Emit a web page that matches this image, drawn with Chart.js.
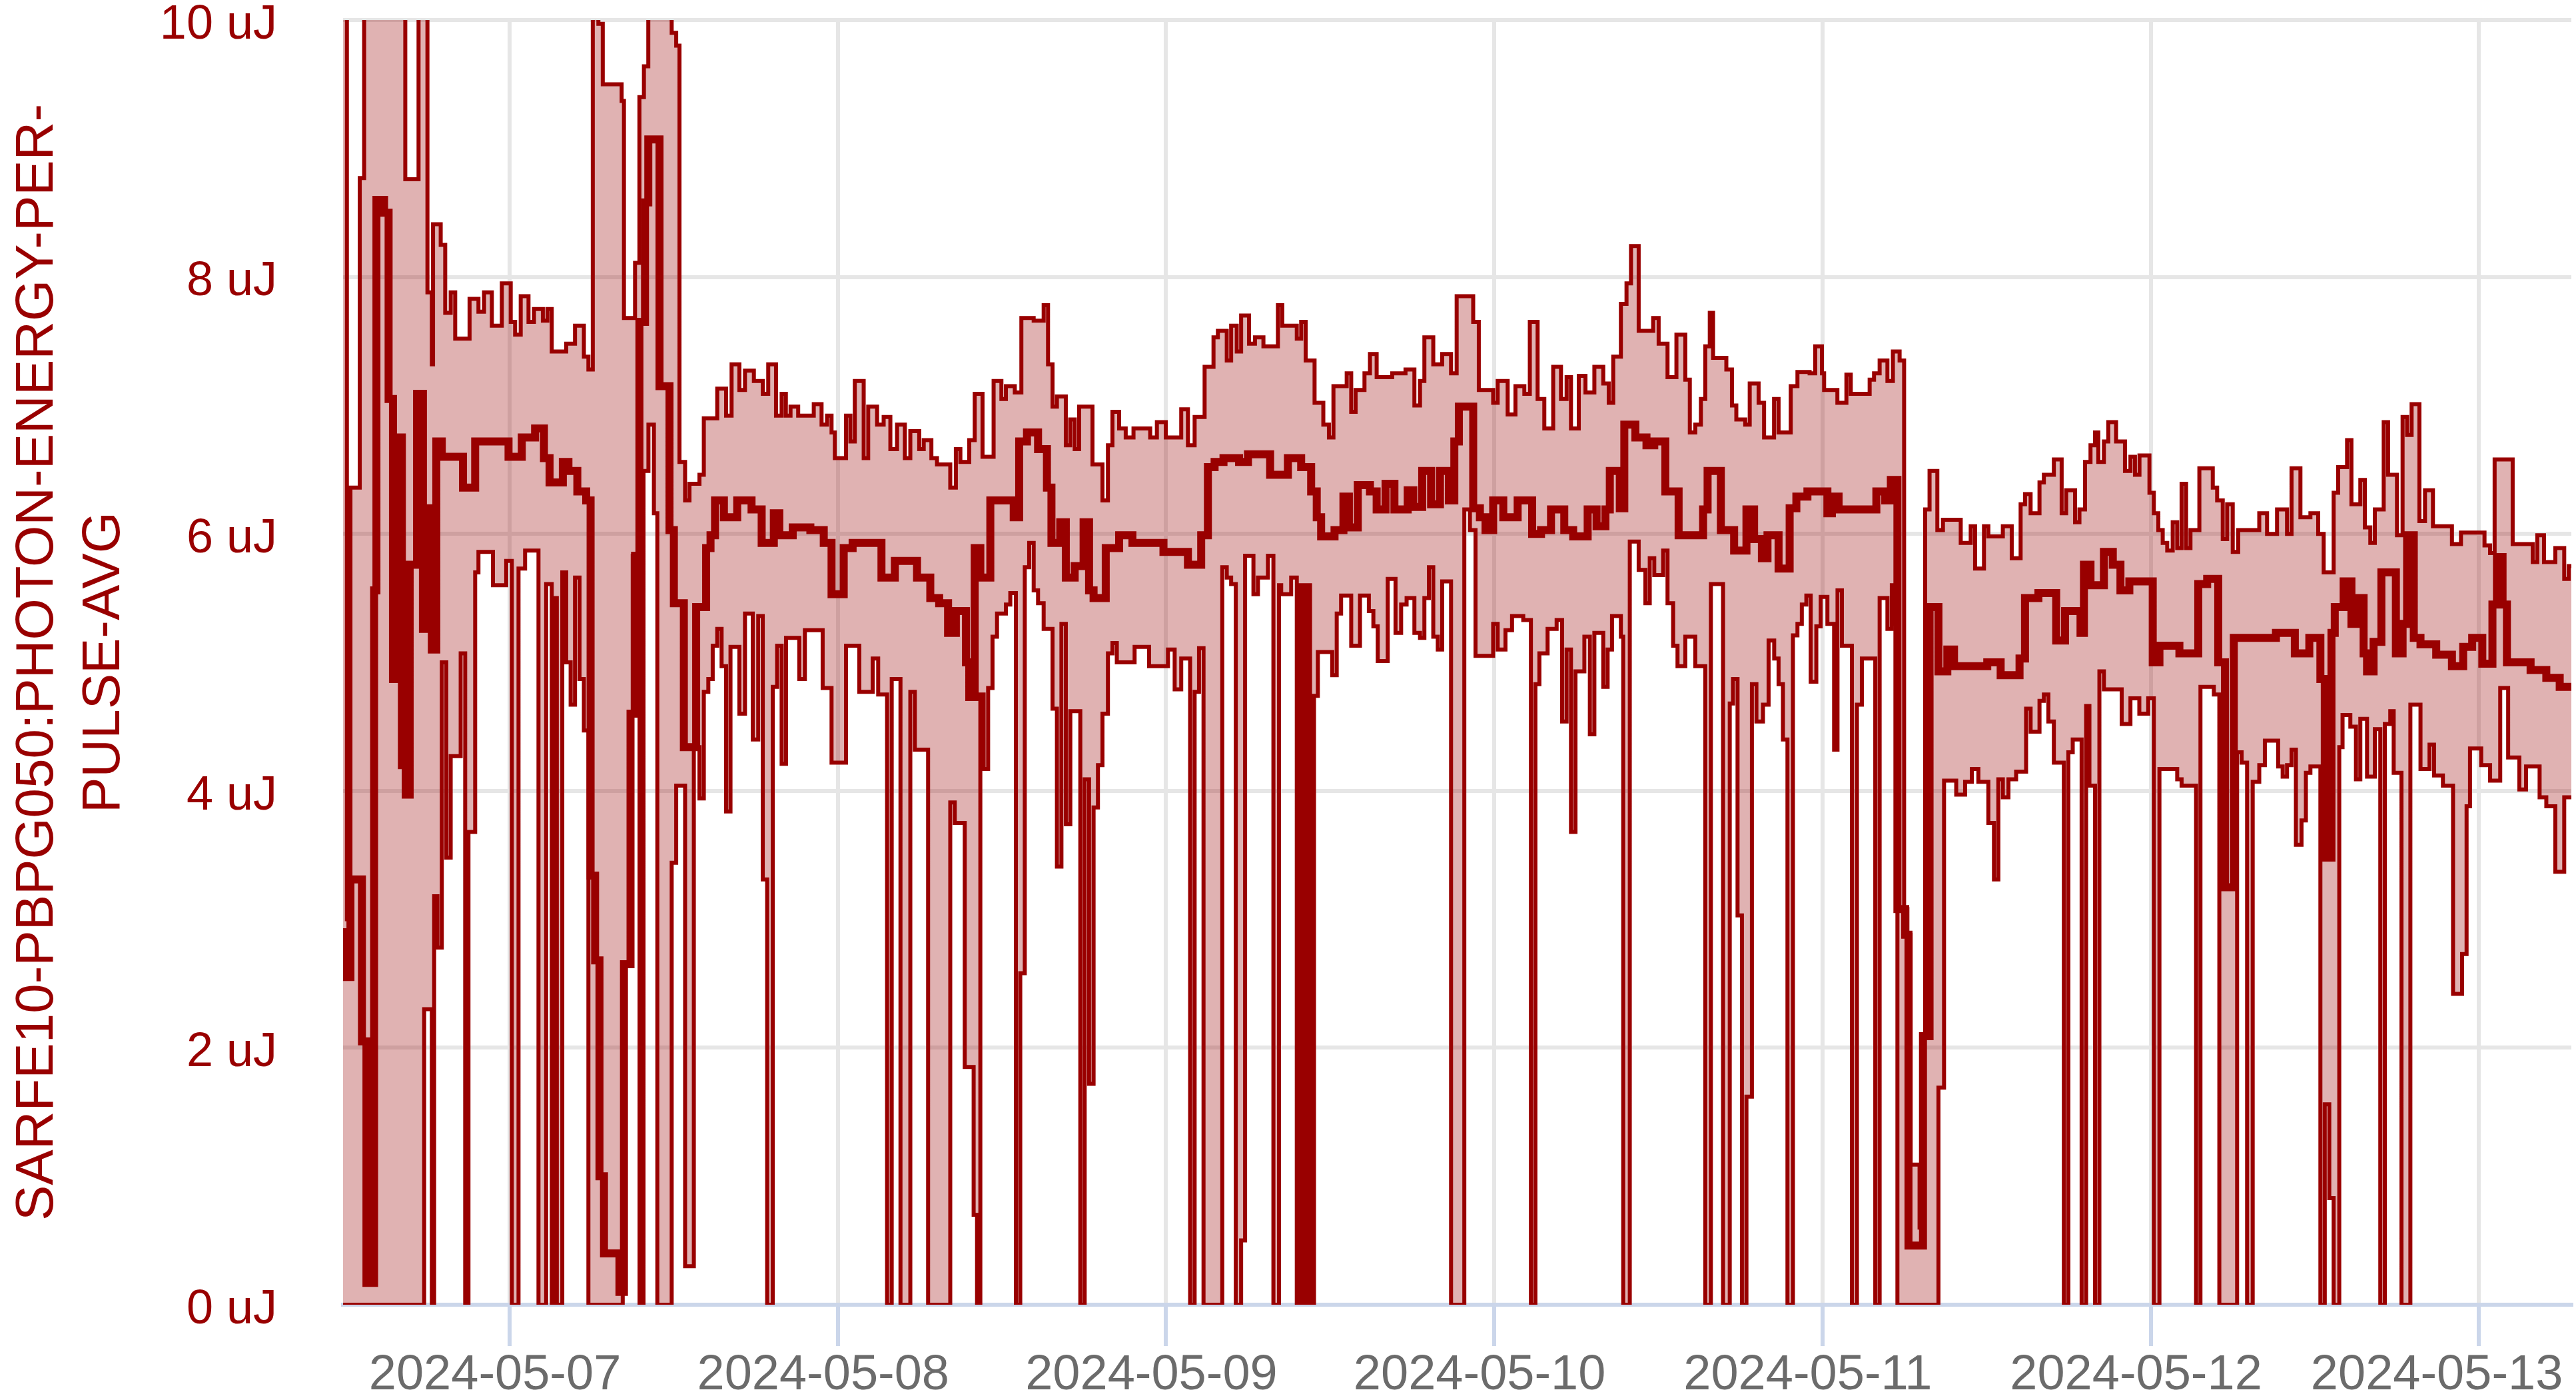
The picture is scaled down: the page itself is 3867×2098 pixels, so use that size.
<!DOCTYPE html>
<html>
<head>
<meta charset="utf-8">
<script src="https://cdn.jsdelivr.net/npm/chart.js@4.4.1/dist/chart.umd.min.js"></script>
<style>
  html, body { margin: 0; padding: 0; background: #ffffff; }
  #wrap { width: 3867px; height: 2098px; }
</style>
</head>
<body>
<div id="wrap"><canvas id="energyChart"></canvas></div>
<script>
// hours since 2024-05-06 00:00, value in uJ (each value holds until the next time)
const maxSteps = [
  [11.82,10.5],[12.1,3.0],[12.36,6.36],[13.04,8.77],[13.36,10.5],[16.37,8.76],[17.34,10.5],[17.99,7.88],
  [18.31,7.32],[18.4,8.41],[18.96,8.25],[19.29,7.72],[19.69,7.88],[20.02,7.52],[21.07,7.83],[21.72,7.73],
  [22.13,7.88],[22.7,7.62],[23.43,7.95],[24.08,7.65],[24.4,7.55],[24.81,7.85],[25.38,7.65],[25.78,7.75],
  [26.43,7.66],[26.76,7.75],[27.08,7.42],[28.14,7.48],[28.78,7.62],[29.43,7.38],[29.76,7.28],[30.08,10.5],
  [30.49,9.97],[30.81,9.5],[32.19,9.37],[32.36,7.68],[33.17,8.11],[33.49,9.4],[33.82,9.64],[34.14,10.5],
  [35.85,9.9],[36.18,9.8],[36.42,6.56],[36.83,6.26],[37.15,6.39],[37.88,6.46],[38.2,6.9],[39.18,7.13],
  [39.83,6.92],[40.23,7.32],[40.8,7.12],[41.21,7.27],[41.86,7.19],[42.51,7.09],[42.91,7.32],[43.48,6.92],
  [43.89,7.09],[44.2,6.92],[44.54,6.99],[45.1,6.92],[46.24,7.01],[46.81,6.85],[47.21,6.92],[47.54,6.79],
  [47.78,6.59],[48.6,6.92],[48.92,6.72],[49.24,7.19],[49.89,6.59],[50.22,6.99],[50.87,6.85],[51.35,6.91],
  [51.84,6.66],[52.33,6.85],[52.9,6.59],[53.3,6.8],[53.95,6.66],[54.28,6.73],[54.84,6.59],[55.25,6.54],
  [56.22,6.36],[56.63,6.66],[56.96,6.56],[57.61,6.73],[58.01,7.09],[58.58,6.6],[59.39,7.19],[59.96,7.05],
  [60.29,7.15],[60.94,7.1],[61.42,7.68],[62.32,7.66],[63.05,7.78],[63.37,7.32],[63.7,6.99],[64.02,7.07],
  [64.67,6.69],[64.99,6.89],[65.32,6.66],[65.64,6.99],[66.62,6.54],[67.35,6.26],[67.75,6.69],[68.08,6.95],
  [68.57,6.82],[69.05,6.75],[69.62,6.82],[70.84,6.75],[71.33,6.87],[71.98,6.75],[73.11,6.97],[73.6,6.69],
  [74.09,6.91],[74.82,7.3],[75.47,7.53],[75.79,7.58],[76.44,7.35],[76.76,7.62],[77.17,7.42],[77.49,7.7],
  [78.07,7.48],[78.5,7.53],[79.12,7.46],[80.18,7.78],[80.5,7.62],[81.56,7.52],[81.88,7.65],[82.21,7.35],
  [82.86,7.02],[83.5,6.85],[83.91,6.75],[84.24,7.15],[85.21,7.25],[85.54,6.95],[85.86,7.12],[86.51,7.25],
  [86.91,7.4],[87.4,7.22],[88.54,7.25],[89.51,7.28],[90.16,7.0],[90.57,7.19],[90.89,7.53],[91.54,7.32],
  [92.19,7.4],[92.84,7.25],[93.25,7.85],[94.46,7.65],[94.87,7.12],[95.92,7.02],[96.25,7.19],[96.98,6.93],
  [97.55,7.15],[98.2,7.09],[98.6,7.65],[99.17,7.05],[99.66,6.82],[100.31,7.3],[100.88,7.05],[101.29,7.22],
  [101.61,6.82],[102.18,7.23],[102.67,7.1],[103.32,7.3],[103.97,7.17],[104.37,7.02],[104.7,7.38],[105.26,7.79],
  [105.67,7.95],[106.0,8.24],[106.56,7.58],[107.62,7.68],[108.02,7.48],[108.67,7.22],[109.32,7.55],[109.97,7.2],
  [110.3,6.79],[110.7,6.85],[111.11,7.05],[111.43,7.46],[111.76,7.72],[112.0,7.37],[112.97,7.28],[113.38,7.0],
  [113.7,6.89],[114.35,6.85],[114.68,7.17],[115.33,7.02],[115.73,6.75],[116.46,7.05],[116.79,6.79],[117.68,7.15],
  [118.17,7.26],[119.06,7.25],[119.47,7.46],[119.96,7.25],[120.12,7.12],[121.09,7.02],[121.75,7.24],[122.07,7.09],
  [123.45,7.2],[123.77,7.25],[124.18,7.35],[124.75,7.19],[125.15,7.42],[125.64,7.35],[125.97,3.08],[126.21,2.88],
  [126.45,1.09],[127.1,0.6],[127.35,2.09],[127.51,6.19],[127.83,6.49],[128.4,6.03],[128.81,6.11],[130.11,5.93],
  [130.84,6.06],[131.16,5.73],[131.81,6.06],[132.13,5.98],[133.19,6.06],[133.84,5.81],[134.49,6.23],[134.81,6.31],
  [135.22,6.16],[135.87,6.4],[136.19,6.46],[136.92,6.58],[137.49,6.16],[137.82,6.34],[138.47,6.09],[138.79,6.19],
  [139.2,6.56],[139.6,6.69],[139.93,6.79],[140.17,6.56],[140.58,6.72],[140.9,6.87],[141.47,6.72],[142.12,6.49],
  [142.52,6.6],[142.85,6.46],[143.18,6.61],[143.91,6.32],[144.23,6.16],[144.56,6.03],[144.88,5.93],[145.21,5.87],
  [145.61,6.09],[145.94,5.89],[146.26,6.39],[146.59,5.89],[146.91,6.03],[147.56,6.51],[148.54,6.36],[148.86,6.26],
  [149.27,5.96],[149.59,6.23],[150.0,5.86],[150.4,6.03],[151.94,6.16],[152.51,6.0],[153.24,6.19],[153.97,6.0],
  [154.3,6.51],[154.95,6.13],[155.68,6.16],[156.25,6.0],[156.65,5.7],[157.38,6.32],[157.71,6.52],[158.36,6.73],
  [158.68,6.23],[159.33,6.42],[159.66,6.05],[160.06,5.93],[160.39,6.19],[161.04,6.87],[161.36,6.46],[162.01,5.99],
  [162.42,6.91],[162.75,6.77],[163.08,7.01],[163.65,6.1],[164.06,6.34],[164.64,6.06],[166.03,5.92],[166.69,6.01],
  [168.41,5.91],[168.82,5.85],[169.15,6.58],[170.47,5.92],[171.94,5.78],[172.27,5.99],[172.76,5.78],[173.59,5.89],
  [174.24,5.65],[174.57,5.75],[174.76,5.75]
];

const meanSteps = [
  [11.82,2.9],[12.1,2.55],[12.36,3.31],[13.2,2.05],[13.53,0.17],[14.09,5.56],[14.26,8.6],[14.82,8.5],
  [15.15,7.05],[15.47,4.87],[15.88,6.75],[16.12,4.2],[16.4,3.97],[16.69,5.76],[17.23,7.09],[17.66,5.26],
  [17.99,6.2],[18.31,5.1],[18.64,6.72],[19.04,6.6],[20.59,6.36],[21.48,6.72],[23.92,6.6],[24.89,6.75],
  [25.86,6.82],[26.51,6.59],[26.92,6.4],[27.89,6.56],[28.3,6.49],[28.95,6.33],[29.6,6.26],[29.92,3.34],
  [30.25,2.68],[30.57,1.0],[30.9,0.4],[32.03,0.1],[32.36,2.65],[32.84,4.6],[33.17,5.83],[33.49,7.65],
  [33.9,8.58],[34.14,9.07],[34.96,7.15],[35.69,6.03],[36.01,5.46],[36.74,4.34],[37.64,5.43],[38.37,5.89],
  [38.69,5.99],[39.02,6.26],[39.67,6.13],[40.64,6.26],[41.69,6.19],[42.43,5.93],[43.32,6.16],[43.72,5.99],
  [44.7,6.05],[45.99,6.03],[46.97,5.93],[47.54,5.53],[48.43,5.89],[49.08,5.93],[51.19,5.66],[52.17,5.79],
  [53.79,5.66],[54.76,5.5],[55.41,5.46],[56.06,5.23],[56.63,5.4],[57.37,5.0],[57.61,4.73],[58.01,5.89],
  [58.42,5.66],[59.15,6.26],[60.86,6.13],[61.26,6.72],[61.83,6.79],[62.64,6.66],[63.29,6.36],[63.62,5.93],
  [64.26,6.09],[64.67,5.66],[65.32,5.75],[65.97,6.09],[66.37,5.56],[66.7,5.5],[67.59,5.89],[68.57,5.99],
  [69.54,5.93],[71.81,5.86],[73.6,5.76],[74.57,5.99],[75.06,6.52],[75.55,6.56],[76.2,6.59],[77.34,6.56],
  [77.99,6.62],[79.61,6.46],[80.91,6.59],[81.88,6.52],[82.61,6.33],[83.02,6.13],[83.34,5.98],[84.32,6.03],
  [84.97,6.29],[85.37,6.05],[86.02,6.38],[86.91,6.33],[87.4,6.19],[88.05,6.39],[88.7,6.19],[89.67,6.34],
  [90.08,6.21],[90.73,6.49],[91.38,6.23],[92.03,6.49],[92.68,6.26],[93.08,6.72],[93.41,6.99],[94.46,6.2],
  [94.95,6.13],[95.36,6.03],[95.92,6.26],[96.66,6.13],[97.71,6.26],[98.77,6.0],[99.42,6.03],[100.15,6.19],
  [101.12,6.03],[101.77,5.98],[102.83,6.19],[103.48,6.06],[104.13,6.19],[104.45,6.49],[105.18,6.2],[105.51,6.85],
  [106.32,6.75],[107.13,6.69],[107.7,6.72],[108.51,6.33],[109.48,5.99],[111.27,6.19],[111.6,6.49],[112.57,6.03],
  [113.54,5.87],[114.44,6.19],[115.0,5.96],[115.57,5.81],[115.98,5.99],[116.79,5.73],[117.6,6.2],[118.09,6.29],
  [118.9,6.33],[120.36,6.16],[120.69,6.29],[121.18,6.19],[123.94,6.33],[124.59,6.26],[125.0,6.42],[125.48,3.08],
  [126.05,2.88],[126.29,0.46],[127.35,2.09],[127.83,5.43],[128.48,4.93],[129.13,5.1],[129.62,4.97],[132.05,5.0],
  [133.03,4.9],[134.41,5.03],[134.81,5.5],[135.79,5.54],[137.09,5.17],[137.74,5.4],[138.87,5.23],[139.12,5.76],
  [139.6,5.6],[140.58,5.86],[141.23,5.76],[141.79,5.56],[142.44,5.63],[144.15,5.0],[144.64,5.13],[146.1,5.07],
  [147.48,5.61],[148.13,5.65],[148.94,5.0],[149.43,3.25],[150.08,5.19],[153.16,5.23],[154.54,5.07],[155.6,5.19],
  [156.41,4.87],[156.73,3.48],[157.22,5.23],[157.46,5.43],[158.11,5.63],[158.68,5.3],[159.17,5.5],[159.57,5.07],
  [159.82,4.93],[160.3,5.16],[160.87,5.7],[161.93,5.07],[162.42,5.3],[162.75,5.99],[163.24,5.19],[163.73,5.14],
  [164.88,5.06],[166.03,4.97],[166.85,5.12],[167.51,5.19],[168.25,4.99],[168.99,5.45],[169.32,5.82],[169.73,5.45],
  [170.05,5.0],[171.78,4.94],[172.93,4.88],[173.91,4.81],[174.76,4.81]
];

const minSteps = [
  [11.82,0],[17.75,2.3],[18.31,0],[18.48,3.18],[18.72,2.78],[19.04,5.0],[19.37,3.48],[19.69,4.27],
  [20.42,5.07],[20.75,0],[20.99,3.68],[21.48,5.7],[21.72,5.86],[22.78,5.6],[23.75,5.79],[24.16,0],
  [24.65,5.73],[25.13,5.87],[26.11,0],[26.67,5.61],[27.08,0],[27.3,5.5],[27.45,0],[27.85,5.7],
  [28.14,5.0],[28.46,4.67],[28.78,5.66],[29.11,4.87],[29.43,4.47],[29.76,0],[32.27,2.65],[32.76,4.6],
  [33.0,5.83],[33.5,0],[33.79,6.49],[34.15,6.85],[34.55,6.16],[34.8,0],[35.85,3.44],[36.18,4.04],
  [36.83,0.3],[37.47,4.34],[37.88,3.94],[38.2,4.77],[38.53,4.87],[38.85,5.13],[39.18,5.26],[39.5,4.97],
  [39.83,3.84],[40.15,5.12],[40.8,4.6],[41.21,5.38],[41.78,4.4],[42.18,5.36],[42.51,3.31],[42.83,0],
  [43.24,4.81],[43.56,5.13],[43.89,4.21],[44.21,5.19],[45.18,4.87],[45.59,5.25],[46.89,4.8],[47.54,4.22],
  [48.6,5.13],[49.57,4.77],[50.55,5.03],[50.95,4.75],[51.6,0],[51.94,4.87],[52.58,0],[53.3,4.77],
  [53.63,4.32],[54.6,0],[56.22,3.91],[56.55,3.75],[57.28,1.85],[57.93,0.7],[58.18,0],[58.42,4.75],
  [58.66,4.17],[58.99,4.8],[59.31,5.2],[59.64,5.38],[60.29,5.45],[60.61,5.54],[61.02,0],[61.34,2.58],
  [61.67,5.74],[61.99,5.93],[62.32,5.56],[62.64,5.46],[63.05,5.26],[63.7,4.64],[64.02,3.41],[64.35,5.3],
  [64.67,3.74],[65.0,4.62],[65.73,0],[66.05,4.09],[66.37,1.72],[66.7,3.87],[67.02,4.2],[67.35,4.6],
  [67.75,5.07],[68.08,5.15],[68.4,5.0],[69.7,5.12],[70.76,4.97],[72.14,5.1],[72.63,4.79],[73.11,5.03],
  [73.76,0],[74.09,4.77],[74.41,5.11],[74.74,0],[76.11,5.74],[76.44,5.66],[76.76,5.61],[77.1,0],
  [77.49,0.5],[77.78,5.83],[78.39,5.53],[78.72,5.66],[79.45,5.83],[79.85,0],[80.26,5.6],[80.42,5.53],
  [81.15,5.66],[81.56,0],[81.72,5.6],[81.92,0],[82.08,5.6],[82.24,0],[82.4,5.6],[82.53,0],
  [82.82,4.74],[83.1,5.08],[84.15,4.9],[84.48,5.38],[84.8,5.52],[85.54,5.13],[86.18,5.52],[86.83,5.4],
  [87.16,5.28],[87.48,5.01],[88.21,5.65],[88.78,5.23],[89.19,5.45],[89.59,5.5],[90.16,5.23],[90.57,5.19],
  [90.89,5.5],[91.22,5.74],[91.54,5.2],[91.87,5.1],[92.19,5.63],[92.84,0],[93.81,6.19],[94.22,6.03],
  [94.63,5.05],[95.92,5.3],[96.25,5.1],[96.82,5.25],[97.3,5.36],[98.12,5.33],[98.68,0],[99.01,4.83],
  [99.3,5.07],[99.9,5.26],[100.56,5.33],[100.96,4.54],[101.29,5.1],[101.61,3.68],[101.94,4.93],[102.59,5.2],
  [102.99,4.44],[103.32,5.23],[103.97,4.81],[104.29,5.1],[104.61,5.36],[105.26,5.2],[105.43,0],[105.91,5.94],
  [106.56,5.72],[107.05,5.46],[107.37,5.81],[107.7,5.68],[108.35,5.87],[108.67,5.46],[109.08,5.13],[109.4,4.97],
  [109.97,5.2],[110.7,4.97],[111.43,0],[111.84,5.61],[112.73,0],[113.22,4.68],[113.46,4.87],[113.79,3.03],
  [114.11,0],[114.44,1.62],[114.84,4.83],[115.17,4.54],[115.65,4.67],[116.06,5.17],[116.47,5.03],[116.79,4.83],
  [117.11,4.4],[117.44,0],[117.84,5.21],[118.17,5.3],[118.49,5.45],[118.82,5.52],[119.14,4.85],[119.55,5.28],
  [119.87,5.51],[120.36,5.3],[120.85,4.32],[121.1,5.56],[121.42,5.13],[122.15,0],[122.52,4.67],[122.88,5.03],
  [123.86,0],[124.18,5.5],[124.75,5.26],[125.07,5.6],[125.32,5.3],[125.48,0],[128.48,1.69],[128.89,4.08],
  [129.78,3.97],[130.43,4.07],[130.92,4.17],[131.4,4.07],[132.13,3.75],[132.54,3.31],[132.86,4.09],[133.19,3.95],
  [133.6,4.09],[134.16,4.15],[134.89,4.64],[135.22,4.46],[135.87,4.7],[136.19,4.75],[136.52,4.54],[136.92,4.22],
  [137.65,0],[137.98,4.3],[138.3,4.4],[138.95,0],[139.28,4.66],[139.52,4.04],[139.93,0],[140.25,4.93],
  [140.58,4.79],[141.88,4.52],[142.52,4.72],[143.17,4.6],[143.82,4.72],[144.23,0],[144.64,4.17],[145.94,4.09],
  [146.26,4.04],[147.32,0],[147.64,4.81],[148.62,4.75],[149.02,0],[150.32,4.3],[150.65,4.22],[151.05,0],
  [151.46,4.07],[151.94,4.2],[152.35,4.39],[153.32,4.19],[153.65,4.11],[153.97,4.2],[154.3,4.32],[154.62,3.58],
  [155.03,3.77],[155.35,4.14],[155.68,4.19],[156.41,0],[156.73,1.56],[157.06,0.83],[157.38,0],[157.79,4.34],
  [158.03,4.59],[158.6,4.5],[159.01,4.09],[159.33,4.56],[159.82,4.11],[160.39,4.48],[160.79,0],[161.12,4.52],
  [161.52,4.62],[161.77,4.14],[162.34,0],[162.99,4.67],[163.73,4.17],[164.39,4.36],[164.72,4.12],[165.37,4.04],
  [166.11,2.42],[166.77,2.73],[167.1,3.88],[167.35,4.33],[168.17,4.2],[168.82,4.08],[169.56,4.8],[170.14,4.26],
  [170.96,4.01],[171.45,4.19],[172.44,3.95],[172.93,3.88],[173.59,3.37],[174.24,3.95],[174.76,3.95]
];

const dayTicks = [24, 48, 72, 96, 120, 144, 168];
const dayLabels = ['2024-05-07', '2024-05-08', '2024-05-09', '2024-05-10', '2024-05-11', '2024-05-12', '2024-05-13'];
const startHour = 11.82;
const endHour = 174.76;
const yTitle = ['SARFE10-PBPG050:PHOTON-ENERGY-PER-', 'PULSE-AVG'];

const RED = '#990000';
const FONT = "'Liberation Sans', Arial, Helvetica, sans-serif";

function to_points(steps) {
    return steps.map(s => ({x: s[0], y: s[1]}));
}

function tick_label(value) {
    const i = dayTicks.indexOf(value);
    if (i < 0)
        return '';
    // the last label is pushed inward so it stays on the canvas
    if (i === dayTicks.length - 1)
        return dayLabels[i] + '    ';
    return dayLabels[i];
}

const ctx = document.getElementById('energyChart').getContext('2d');
const chart = new Chart(ctx, {
    type: 'line',
    data: {
        datasets: [
            {
                label: 'mean',
                data: to_points(meanSteps),
                borderColor: RED,
                borderWidth: 12,
                stepped: true,
                pointRadius: 0,
                fill: false,
                clip: 0
            },
            {
                label: 'max',
                data: to_points(maxSteps),
                borderColor: RED,
                borderWidth: 6,
                stepped: true,
                pointRadius: 0,
                fill: false,
                clip: 0
            },
            {
                label: 'min',
                data: to_points(minSteps),
                borderColor: RED,
                borderWidth: 6,
                stepped: true,
                pointRadius: 0,
                fill: '-1',
                backgroundColor: 'rgba(153, 0, 0, 0.3)',
                clip: 0
            }
        ]
    },
    options: {
        responsive: true,
        maintainAspectRatio: false,
        devicePixelRatio: 1,
        animation: false,
        layout: {
            padding: {top: 30, right: 7, bottom: 0, left: 0}
        },
        plugins: {
            legend: {display: false},
            tooltip: {enabled: false}
        },
        scales: {
            x: {
                type: 'linear',
                min: startHour,
                max: endHour,
                afterBuildTicks: (scale) => {
                    scale.ticks = dayTicks.map(v => ({value: v}));
                },
                afterFit: (scale) => {
                    scale.height = 140;
                    scale.paddingLeft = 0;
                    scale.paddingRight = 0;
                },
                grid: {
                    color: '#e6e6e6',
                    lineWidth: 6,
                    tickColor: '#cbd6ea',
                    tickWidth: 6,
                    tickLength: 62
                },
                border: {
                    display: true,
                    color: '#cbd6ea',
                    width: 6
                },
                ticks: {
                    autoSkip: false,
                    maxRotation: 0,
                    padding: 0,
                    labelOffset: -22,
                    color: '#6b6b6b',
                    font: {family: FONT, size: 74},
                    callback: tick_label
                }
            },
            y: {
                min: 0,
                max: 10,
                afterFit: (scale) => {
                    scale.width = 515;
                    scale.paddingTop = 0;
                    scale.paddingBottom = 0;
                },
                grid: {
                    color: '#e6e6e6',
                    lineWidth: 6,
                    drawTicks: false
                },
                border: {display: false},
                ticks: {
                    stepSize: 2,
                    padding: 99,
                    labelOffset: 8,
                    color: RED,
                    font: {family: FONT, size: 72},
                    callback: (v) => v + ' uJ'
                },
                title: {
                    display: true,
                    text: yTitle,
                    color: RED,
                    font: {family: FONT, size: 80, lineHeight: 1.25},
                    padding: {top: 7, bottom: 0}
                }
            }
        }
    }
});
</script>
</body>
</html>
